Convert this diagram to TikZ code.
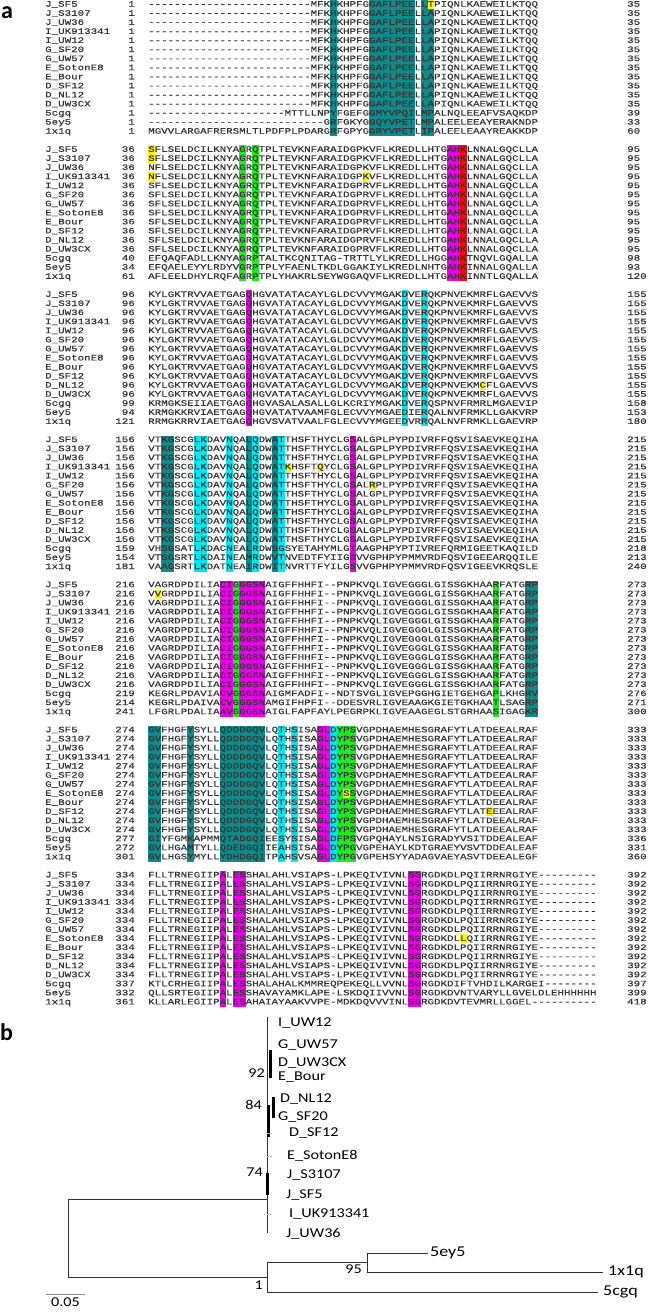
\documentclass[tikz,border=0pt]{standalone}
\usepackage{fontspec}
\newfontfamily\seqfont[FakeStretch=1.3,FakeBold=0.4]{Liberation Mono}
\newfontfamily\treefont[FakeStretch=1.2]{Carlito}
\newfontfamily\panelfont{Carlito}
\usetikzlibrary{positioning}

\definecolor{hlteal}{RGB}{16,138,138}
\definecolor{hlcyan}{RGB}{0,232,240}
\definecolor{hlgreen}{RGB}{32,235,32}
\definecolor{hlmag}{RGB}{236,0,236}
\definecolor{hlred}{RGB}{245,10,10}
\definecolor{hlyel}{RGB}{255,245,0}

% repeated alignment rows
\newcommand\dfive{-----}
\newcommand\sqA{\dfive\dfive\dfive\dfive\dfive MFKHKHPFGGAFLPEELLAPIQNLKAEWEILKTQQ}
\newcommand\sqB{SFLSELDCILKNYAGRQTPLTEVKNFARAIDGPRVFLKREDLLHTGAHKLNNALGQCLLA}
\newcommand\sqBk{SFLSELDCILKNYAGRQTPLTEVKNFARAIDGPKVFLKREDLLHTGAHKLNNALGQCLLA}
\newcommand\sqC{KYLGKTRVVAETGAGQHGVATATACAYLGLDCVVYMGAKDVERQKPNVEKMRFLGAEVVS}
\newcommand\sqD{VTKGSCGLKDAVNQALQDWATTHSFTHYCLGSALGPLPYPDIVRFFQSVISAEVKEQIHA}
\newcommand\sqE{VAGRDPDILIACIGGGSNAIGFFHHFI--PNPKVQLIGVEGGGLGISSGKHAARFATGRP}
\newcommand\sqF{GVFHGFYSYLLQDDDGQVLQTHSISAGLDYPSVGPDHAEMHESGRAFYTLATDEEALRAF}
\newcommand\sqG{FLLTRNEGIIPALESSHALAHLVSIAPS-LPKEQIVIVNLSGRGDKDLPQIIRRNRGIYE\dfive----}

\begin{document}
\begin{tikzpicture}[x=1pt, y=-1pt,
    seq/.style={anchor=west, inner sep=0pt, text height=5pt, text depth=1pt,
                font=\seqfont\fontsize{8.33}{9}\selectfont, text=black!80},
    num/.style={seq, anchor=east},
    leaf/.style={anchor=west, inner sep=0pt,
                 font=\treefont\fontsize{13.5}{14}\selectfont},
    outl/.style={leaf, font=\treefont\fontsize{15}{16}\selectfont},
    boot/.style={leaf, anchor=east},
    br/.style={draw=black!80, line width=0.9pt},
    thk/.style={draw=black, line width=3pt},
    tick/.style={draw=black!25, line width=0.8pt},
    panel/.style={anchor=base west, inner sep=0pt,
                  font=\panelfont\bfseries\fontsize{24}{27}\selectfont}
  ]
  \useasboundingbox (0,0) rectangle (652,1313);

  \node[panel] (pa) at (1,19) {a};
  \node[panel] (pb) at (0,1040) {b};

  % alignment: one unit = one column, one row
  \begin{scope}[shift={(148pt,-4.7pt)}, x=6.5pt, y=-9.07pt]
    \foreach \cl/\bk/\ca/\cb/\ra/\rb in {%
      hlteal/0/29/29/0/14,hlteal/0/35/41/0/14,hlteal/0/43/43/0/14,hlteal/0/44/44/1/14,hlyel/0/44/44/0/0,%
      hlgreen/1/15/15/0/14,hlgreen/1/17/17/0/14,hlmag/1/47/48/0/14,hlred/1/49/49/0/14,%
      hlyel/1/1/1/0/1,hlyel/1/1/1/3/3,hlyel/1/34/34/3/3,%
      hlmag/2/16/16/0/14,hlcyan/2/40/40/0/14,hlcyan/2/43/43/0/14,hlyel/2/52/52/10/10,%
      hlteal/3/3/4/0/14,hlcyan/3/8/9/0/14,hlcyan/3/13/13/0/14,hlteal/3/16/16/0/14,%
      hlcyan/3/17/17/0/14,hlteal/3/20/20/0/14,hlcyan/3/21/21/0/14,hlmag/3/32/32/0/14,%
      hlyel/3/22/22/3/3,hlyel/3/27/27/3/3,hlyel/3/35/35/5/5,%
      hlmag/4/12/13/0/14,hlgreen/4/14/14/0/14,hlmag/4/15/18/0/14,hlgreen/4/54/54/0/14,%
      hlteal/4/59/60/0/14,hlyel/4/2/2/1/1,%
      hlteal/5/1/2/0/14,hlteal/5/7/7/0/14,hlteal/5/12/18/0/14,hlcyan/5/21/21/0/14,%
      hlcyan/5/23/23/0/14,hlmag/5/27/28/0/14,hlcyan/5/29/29/0/14,hlgreen/5/30/32/0/14,%
      hlyel/5/31/31/7/7,hlyel/5/53/53/9/9,%
      hlmag/6/12/12/0/14,hlmag/6/14/15/0/14,hlmag/6/41/42/0/14,hlyel/6/49/49/7/7}
      \fill[\cl] ({\ca-1},{16*\bk+\ra-0.5}) rectangle (\cb,{16*\bk+\rb+0.5});

    \foreach \bk in {0,...,6}
      \foreach \nm [count=\r from 0] in {J\_SF5,J\_S3107,J\_UW36,I\_UK913341,I\_UW12,%
          G\_SF20,G\_UW57,E\_SotonE8,E\_Bour,D\_SF12,D\_NL12,D\_UW3CX,5cgq,5ey5,1x1q}
        \node[seq] (nm\bk-\r) at (-15.85,{16*\bk+\r}) {\nm};

    \foreach \bk/\sJ/\sX/\sY/\sZ/\eJ/\eX/\eY/\eZ in {0/1/1/1/1/35/39/33/60,%
        1/36/40/34/61/95/98/93/120,2/96/99/94/121/155/158/153/180,%
        3/156/159/154/181/215/218/213/240,4/216/219/214/241/273/276/271/300,%
        5/274/277/272/301/333/336/331/360,6/334/337/332/361/392/397/399/418} {
      \foreach \r in {0,...,11} {
        \node[num] (st\bk-\r) at (-2,{16*\bk+\r}) {\sJ};
        \node[seq] (en\bk-\r) at (73.69,{16*\bk+\r}) {\eJ};
      }
      \node[num] (st\bk-12) at (-2,{16*\bk+12}) {\sX};
      \node[num] (st\bk-13) at (-2,{16*\bk+13}) {\sY};
      \node[num] (st\bk-14) at (-2,{16*\bk+14}) {\sZ};
      \node[seq] (en\bk-12) at (73.69,{16*\bk+12}) {\eX};
      \node[seq] (en\bk-13) at (73.69,{16*\bk+13}) {\eY};
      \node[seq] (en\bk-14) at (73.69,{16*\bk+14}) {\eZ};
    }

    \foreach \sqt [count=\r from 0] in {%
        \dfive\dfive\dfive\dfive\dfive MFKHKHPFGGAFLPEELLTPIQNLKAEWEILKTQQ,%
        \sqA,\sqA,\sqA,\sqA,\sqA,\sqA,\sqA,\sqA,\sqA,\sqA,\sqA,%
        \dfive\dfive\dfive\dfive-MTTLLNPYFGEFGGMYVPQILMPALNQLEEAFVSAQKDP,%
        \dfive\dfive\dfive\dfive\dfive--GRFGKYGGQYVPETLMPALEELEEAYERAKNDP,%
        MGVVLARGAFRERSMLTLPDFPLPDARGRFGPYGGRYVPETLIPALEELEAAYREAKKDP}
      \node[seq] (sq0-\r) at (0,\r) {\sqt};

    \foreach \sqt [count=\r from 0] in {%
        \sqBk,\sqBk,%
        NFLSELDCILKNYAGRQTPLTEVKNFARAIDGPKVFLKREDLLHTGAHKLNNALGQCLLA,%
        NFLSELDCILKNYAGRQTPLTEVKNFARAIDGPKVFLKREDLLHTGAHKLNNALGQCLLA,%
        \sqB,\sqB,\sqB,\sqB,\sqB,\sqB,\sqB,\sqB,%
        EFQAQFADLLKNYAGRPTALTKCQNITAG-TRTTLYLKREDLLHGGAHKTNQVLGQALLA,%
        EFQAELEYYLRDYVGRPTPLYFAENLTKDLGGAKIYLKREDLNHTGAHKINNALGQALLA,%
        AFLEELDHYLRQFAGRPTPLYHAKRLSEYWGGAQVFLKREDLLHTGAHKINNTLGQALLA}
      \node[seq] (sq1-\r) at (0,{16+\r}) {\sqt};

    \foreach \sqt [count=\r from 0] in {%
        \sqC,\sqC,\sqC,\sqC,\sqC,\sqC,\sqC,\sqC,\sqC,\sqC,%
        KYLGKTRVVAETGAGQHGVATATACAYLGLDCVVYMGAKDVERQKPNVEKMCFLGAEVVS,\sqC,%
        KRMGKSEIIAETGAGQHGVASALASALLGLKCRIYMGAKDVERQSPNVFRMRLMGAEVIP,%
        KRMGKKRVIAETGAGQHGVATATVAAMFGLECVVYMGAEDIERQALNVFRMKLLGAKVRP,%
        RRMGKRRVIAETGAGQHGVSVATVAALFGLECVVYMGEEDVRRQALNVFRMKLLGAEVRP}
      \node[seq] (sq2-\r) at (0,{32+\r}) {\sqt};

    \foreach \sqt [count=\r from 0] in {%
        \sqD,\sqD,\sqD,%
        VTKGSCGLKDAVNQALQDWATKHSFTQYCLGSALGPLPYPDIVRFFQSVISAEVKEQIHA,\sqD,%
        VTKGSCGLKDAVNQALQDWATTHSFTHYCLGSALRPLPYPDIVRFFQSVISAEVKEQIHA,%
        \sqD,\sqD,\sqD,\sqD,\sqD,\sqD,%
        VHSGSATLKDACNEALRDWSGSYETAHYMLGTAAGPHPYPTIVREFQRMIGEETKAQILD,%
        VTSGSRTLKDAINEAMRDWVTNVEDTFYIIGSVVGPHPYPMMVRDFQSVIGEEARQQILE,%
        VAAGSRTLKDATNEAIRDWITNVRTTFYILGSVVGPHPYPMMVRDFQSVIGEEVKRQSLE}
      \node[seq] (sq3-\r) at (0,{48+\r}) {\sqt};

    \foreach \sqt [count=\r from 0] in {%
        \sqE,%
        VVGRDPDILIACIGGGSNAIGFFHHFI--PNPKVQLIGVEGGGLGISSGKHAARFATGRP,%
        \sqE,\sqE,\sqE,\sqE,\sqE,\sqE,\sqE,\sqE,\sqE,\sqE,%
        KEGRLPDAVIACVGGGSNAIGMFADFI--NDTSVGLIGVEPGGHGIETGEHGAPLKHGRV,%
        KEGRLPDAIVACVGGGSNAMGIFHPFI--DDESVRLIGVEAAGKGIETGKHAATLSAGRP,%
        LFGRLPDALIAAVGGGSNAIGLFAPFAYLPEGRPKLIGVEAAGEGLSTGRHAASIGAGKR}
      \node[seq] (sq4-\r) at (0,{64+\r}) {\sqt};

    \foreach \sqt [count=\r from 0] in {%
        \sqF,\sqF,\sqF,\sqF,\sqF,\sqF,\sqF,%
        GVFHGFYSYLLQDDDGQVLQTHSISAGLDYSSVGPDHAEMHESGRAFYTLATDEEALRAF,\sqF,%
        GVFHGFYSYLLQDDDGQVLQTHSISAGLDYPSVGPDHAEMHESGRAFYTLATEEEALRAF,\sqF,\sqF,%
        GIYFGMKAPMMQTADGQIEESYSISAGLDFPSVGPQHAYLNSIGRADYVSITDDEALEAF,%
        GVLHGAMTYLLQDEDGQIIEAHSISAGLDYPGVGPEHAYLKDTGRAEYVSVTDDEALEAF,%
        GVLHGSYMYLLYDHDGQITPAHSVSAGLDYPGVGPEHSYYADAGVAEYASVTDEEALEGF}
      \node[seq] (sq5-\r) at (0,{80+\r}) {\sqt};

    \foreach \sqt [count=\r from 0] in {%
        \sqG,\sqG,\sqG,\sqG,\sqG,\sqG,\sqG,%
        FLLTRNEGIIPALESSHALAHLVSIAPS-LPKEQIVIVNLSGRGDKDLLQIIRRNRGIYE\dfive----,%
        \sqG,\sqG,\sqG,\sqG,%
        KTLCRHEGIIPALESSHALAHALKMMREQPEKEQLLVVNLSGRGDKDIFTVHDILKARGEI\dfive---,%
        QLLSRTEGIIPALESSHAVAYAMKLAPE-LSKDQIIVVNLSGRGDKDVNTVARYLLGVELDLEHHHHHH,%
        KLLARLEGIIPALESAHAIAYAAKVVPE-MDKDQVVVINLSGRGDKDVTEVMRLLGGEL\dfive\dfive}
      \node[seq] (sq6-\r) at (0,{96+\r}) {\sqt};
  \end{scope}

  % tree
  \coordinate (ctop) at (267,1017);
  \coordinate (cbot) at (267,1233);
  \coordinate (cmid) at (267,1199);
  \coordinate (rt) at (68,1199);
  \coordinate (rb) at (68,1277);
  \coordinate (om) at (267,1277);
  \coordinate (o1t) at (267,1262);
  \coordinate (o1b) at (267,1292);
  \coordinate (n95) at (367,1262);
  \coordinate (n95t) at (367,1253);
  \coordinate (n95b) at (367,1272);
  \coordinate (t5ey5) at (428,1253);
  \coordinate (t1x1q) at (603,1272);
  \coordinate (t5cgq) at (598,1292);
  \coordinate (c92a) at (270,1050);
  \coordinate (c92b) at (270,1078);
  \coordinate (c84a) at (273,1097);
  \coordinate (c84b) at (273,1118);
  \coordinate (c84c) at (268,1105);
  \coordinate (c84d) at (268,1137);
  \coordinate (c74a) at (267,1173);
  \coordinate (c74b) at (267,1195);

  \node[leaf] (liuw12) at (278,1023) {I\_UW12};
  \node[leaf] (lguw57) at (278,1045) {G\_UW57};
  \node[leaf] (lduw3cx) at (278,1063) {D\_UW3CX};
  \node[leaf] (lebour) at (278,1077) {E\_Bour};
  \node[leaf] (ldnl12) at (280,1099) {D\_NL12};
  \node[leaf] (lgsf20) at (278,1117) {G\_SF20};
  \node[leaf] (ldsf12) at (289,1133) {D\_SF12};
  \node[leaf] (lesoton) at (287,1156) {E\_SotonE8};
  \node[leaf] (ljs3107) at (287,1175) {J\_S3107};
  \node[leaf] (ljsf5) at (286,1195) {J\_SF5};
  \node[leaf] (liuk) at (289,1214) {I\_UK913341};
  \node[leaf] (ljuw36) at (286,1234) {J\_UW36};
  \node[outl, right=2pt of t5ey5] (l5ey5) {5ey5};
  \node[outl, right=5pt of t1x1q] (l1x1q) {1x1q};
  \node[outl, right=5pt of t5cgq] (l5cgq) {5cgq};

  \node[boot] (b92) at (265,1073) {92};
  \node[boot] (b84) at (262,1105) {84};
  \node[boot] (b74) at (263,1172) {74};
  \node[boot] (b95) at (362,1269) {95};
  \node[boot] (b1) at (263,1285) {1};

  \draw[br] (rt) -- (rb);
  \draw[br] (rt) -- (cmid);
  \draw[br] (rb) -- (om);
  \draw[br] (ctop) -- (cbot);
  \draw[br] (o1t) -- (o1b);
  \draw[br] (o1t) -- (n95);
  \draw[br] (n95t) -- (n95b);
  \draw[br] (n95t) -- (t5ey5);
  \draw[br] (n95b) -- (t1x1q);
  \draw[br] (o1b) -- (t5cgq);
  \draw[thk] (c92a) -- (c92b);
  \draw[thk] (c84a) -- (c84b);
  \draw[thk] (c84c) -- (c84d);
  \draw[thk] (c74a) -- (c74b);
  \draw[tick] (ctop |- ldsf12.west) -- ++(5,0);
  \draw[tick] (ctop |- lesoton.west) -- ++(5,0);
  \draw[tick] (ctop |- liuk.west) -- ++(5,0);

  % scale bar
  \coordinate (sc1) at (46,1294);
  \coordinate (sc2) at (85,1294);
  \draw[br, draw=black!45] (sc1) -- (sc2);
  \node[leaf, anchor=north] (sclbl) at (65.5,1298) {0.05};
\end{tikzpicture}
\end{document}
